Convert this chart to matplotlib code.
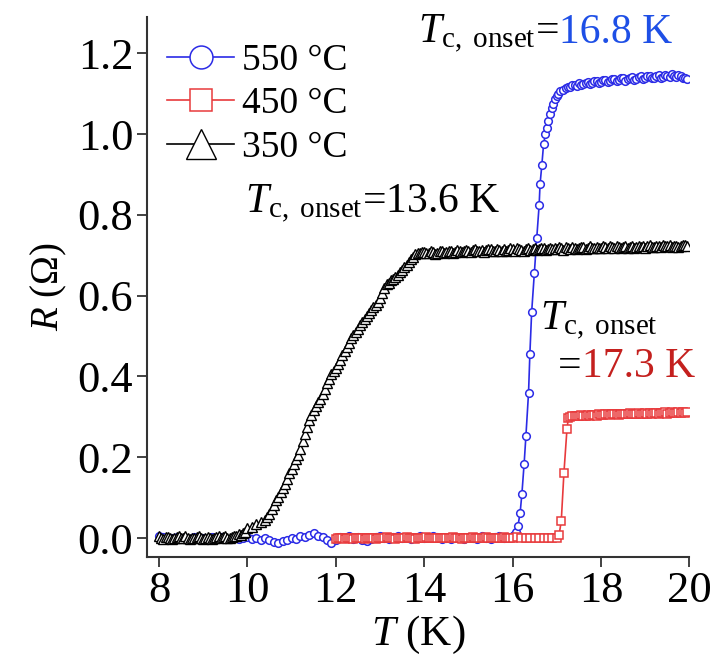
import matplotlib
matplotlib.use('Agg')
import matplotlib.pyplot as plt

plt.rcParams['font.family'] = ['Liberation Serif', 'DejaVu Serif']
plt.rcParams['mathtext.fontset'] = 'custom'
plt.rcParams['mathtext.rm'] = 'Liberation Serif'
plt.rcParams['mathtext.it'] = 'Liberation Serif:italic'

# ---- data ----
# 550 C sample
t550 = [8.0, 8.1, 8.2, 8.3, 8.4, 8.5, 8.6, 8.7, 8.8, 8.9,
        9.0, 9.1, 9.2, 9.3, 9.4, 9.5, 9.6, 9.7, 9.8, 9.9,
        10.0, 10.1, 10.2, 10.3, 10.4, 10.5, 10.6, 10.7, 10.8, 10.9,
        11.0, 11.1, 11.2, 11.3, 11.4, 11.5, 11.6, 11.7, 11.8, 11.9,
        12.0, 12.1, 12.2, 12.3, 12.4, 12.5, 12.6, 12.7, 12.8, 12.9,
        13.0, 13.1, 13.2, 13.3, 13.4, 13.5, 13.6, 13.7, 13.8, 13.9,
        14.0, 14.1, 14.2, 14.3, 14.4, 14.5, 14.6, 14.7, 14.8, 14.9,
        15.0, 15.1, 15.2, 15.3, 15.4, 15.5, 15.6, 15.7, 15.8, 15.9,
        16.0, 16.04, 16.08, 16.12, 16.17, 16.21, 16.26, 16.30, 16.36, 16.39,
        16.43, 16.49, 16.545, 16.60, 16.62, 16.66, 16.70, 16.74, 16.77, 16.81,
        16.85, 16.88, 16.92, 16.96, 17.00, 17.03, 17.08, 17.15,
        17.2, 17.25, 17.3, 17.35, 17.4, 17.45, 17.5, 17.55, 17.6, 17.65,
        17.7, 17.75, 17.8, 17.85, 17.9, 17.95, 18.0, 18.05, 18.1, 18.15,
        18.2, 18.25, 18.3, 18.35, 18.4, 18.45, 18.5, 18.55, 18.6, 18.65,
        18.7, 18.75, 18.8, 18.85, 18.9, 18.95, 19.0, 19.05, 19.1, 19.15,
        19.2, 19.25, 19.3, 19.35, 19.4, 19.45, 19.5, 19.55, 19.6, 19.65,
        19.7, 19.75, 19.8, 19.85, 19.9, 19.95]
r550 = [0.004, 0.002, -0.002, 0.001, 0.003, -0.001, 0.000, -0.003, 0.002, -0.002,
        0.001, -0.003, 0.002, -0.001, 0.003, 0.000, -0.002, 0.002, -0.003, 0.001,
        0.003, -0.002, 0.001, -0.004, 0.000, -0.006, -0.009, -0.012, -0.008, -0.004,
        0.000, -0.003, 0.004, 0.002, 0.008, 0.012, 0.006, 0.002, -0.006, -0.013,
        -0.004, 0.003, 0.000, 0.004, -0.002, 0.002, -0.004, -0.007, -0.002, 0.003,
        0.005, 0.001, -0.002, 0.002, 0.004, -0.001, 0.002, -0.003, 0.001, 0.004,
        0.000, 0.003, 0.006, 0.002, -0.002, 0.001, -0.003, 0.002, 0.000, -0.002,
        0.003, 0.001, -0.002, 0.004, 0.001, -0.003, 0.002, 0.005, 0.001, 0.003,
        0.004, 0.008, 0.016, 0.030, 0.063, 0.110, 0.184, 0.252, 0.360, 0.456,
        0.559, 0.656, 0.742, 0.825, 0.876, 0.923, 0.975, 1.000, 1.015, 1.032,
        1.049, 1.065, 1.076, 1.086, 1.094, 1.100, 1.106, 1.110,
        1.114, 1.116, 1.118, 1.121, 1.122, 1.120, 1.126, 1.123, 1.124, 1.128,
        1.130, 1.125, 1.127, 1.131, 1.133, 1.128, 1.129, 1.134, 1.135, 1.130,
        1.131, 1.136, 1.137, 1.132, 1.134, 1.138, 1.139, 1.133, 1.136, 1.140,
        1.141, 1.135, 1.137, 1.142, 1.143, 1.137, 1.139, 1.144, 1.145, 1.138,
        1.140, 1.145, 1.146, 1.140, 1.142, 1.147, 1.144, 1.141, 1.148, 1.143,
        1.141, 1.146, 1.145, 1.140, 1.139, 1.137]

# 450 C sample
t450 = [12.0, 12.05, 12.1, 12.15, 12.2, 12.25, 12.3, 12.35, 12.4, 12.45,
        12.5, 12.55, 12.6, 12.65, 12.7, 12.75, 12.8, 12.85, 12.9, 12.95,
        13.0, 13.05, 13.1, 13.15, 13.2, 13.25, 13.3, 13.35, 13.4, 13.45,
        13.5, 13.55, 13.6, 13.65, 13.7, 13.75, 13.8, 13.85, 13.9, 13.95,
        14.0, 14.05, 14.1, 14.15, 14.2, 14.25, 14.3, 14.35, 14.4, 14.45,
        14.5, 14.55, 14.6, 14.65, 14.7, 14.75, 14.8, 14.85, 14.9, 14.95,
        15.0, 15.05, 15.1, 15.15, 15.2, 15.25, 15.3, 15.35, 15.4, 15.45,
        15.5, 15.55, 15.6, 15.65, 15.7, 15.75, 15.8, 15.85, 15.9, 15.95,
        16.0, 16.1, 16.2, 16.3, 16.4, 16.5, 16.6, 16.7, 16.8, 16.9,
        17.0, 17.05, 17.10, 17.16, 17.23, 17.26, 17.30,
        17.35, 17.4, 17.45, 17.5, 17.55, 17.6, 17.65, 17.7, 17.75, 17.8,
        17.85, 17.9, 17.95, 18.0, 18.05, 18.1, 18.15, 18.2, 18.25, 18.3,
        18.35, 18.4, 18.45, 18.5, 18.55, 18.6, 18.65, 18.7, 18.75, 18.8,
        18.85, 18.9, 18.95, 19.0, 19.05, 19.1, 19.15, 19.2, 19.25, 19.3,
        19.35, 19.4, 19.45, 19.5, 19.55, 19.6, 19.65, 19.7, 19.75, 19.8,
        19.85, 19.9, 19.95]
r450 = [-0.002, 0.000, -0.001, 0.001, -0.002, 0.000, -0.001, 0.001, -0.002, 0.000,
        0.001, -0.001, 0.000, -0.002, 0.001, 0.000, -0.001, 0.001, -0.002, 0.000,
        0.001, -0.001, 0.000, 0.002, -0.001, 0.000, 0.001, -0.002, 0.000, 0.001,
        -0.001, 0.000, 0.002, -0.001, 0.000, 0.001, -0.002, 0.000, 0.001, -0.001,
        0.000, 0.002, -0.001, 0.000, 0.001, -0.001, 0.000, 0.001, -0.001, 0.000,
        0.001, -0.001, 0.000, 0.002, -0.001, 0.000, 0.001, -0.002, 0.000, 0.001,
        -0.001, 0.000, 0.002, -0.001, 0.000, 0.001, -0.001, 0.000, 0.002, 0.000,
        0.001, -0.001, 0.000, 0.001, -0.001, 0.000, 0.002, -0.001, 0.000, 0.001,
        0.000, 0.002, -0.001, 0.000, 0.001, -0.001, 0.000, 0.001, -0.001, 0.000,
        0.001, 0.007, 0.042, 0.161, 0.271, 0.296, 0.300,
        0.302, 0.301, 0.303, 0.302, 0.304, 0.302, 0.303, 0.305, 0.303, 0.304,
        0.305, 0.303, 0.306, 0.305, 0.304, 0.306, 0.307, 0.305, 0.306, 0.307,
        0.306, 0.305, 0.307, 0.308, 0.306, 0.307, 0.309, 0.306, 0.308, 0.307,
        0.309, 0.307, 0.308, 0.310, 0.308, 0.309, 0.307, 0.310, 0.309, 0.308,
        0.310, 0.309, 0.311, 0.308, 0.310, 0.311, 0.309, 0.310, 0.312, 0.309,
        0.311, 0.310, 0.311]

# 350 C sample
t350 = [8.0, 8.05, 8.1, 8.15, 8.2, 8.25, 8.3, 8.35, 8.4, 8.45,
        8.5, 8.55, 8.6, 8.65, 8.7, 8.75, 8.8, 8.85, 8.9, 8.95,
        9.0, 9.05, 9.1, 9.15, 9.2, 9.25, 9.3, 9.35, 9.4, 9.45,
        9.5, 9.55, 9.6, 9.65, 9.7, 9.75, 9.8, 9.85, 9.9, 9.95,
        10.0, 10.1, 10.2, 10.3, 10.4, 10.45, 10.5, 10.55, 10.6, 10.65,
        10.7, 10.75, 10.8, 10.85, 10.9, 10.95, 11.0, 11.05, 11.1, 11.15,
        11.2, 11.25, 11.3, 11.35, 11.4, 11.45, 11.5, 11.55, 11.6, 11.65,
        11.7, 11.75, 11.8, 11.85, 11.9, 11.95, 12.0, 12.05, 12.1, 12.15,
        12.2, 12.25, 12.3, 12.35, 12.4, 12.45, 12.5, 12.55, 12.6, 12.65,
        12.7, 12.75, 12.8, 12.85, 12.9, 12.95, 13.0, 13.05, 13.1, 13.15,
        13.2, 13.25, 13.3, 13.35, 13.4, 13.45, 13.5, 13.55, 13.6, 13.65,
        13.7, 13.75, 13.8, 13.85, 13.9, 13.95,
        14.0, 14.05, 14.1, 14.15, 14.2, 14.25, 14.3, 14.35, 14.4, 14.45,
        14.5, 14.55, 14.6, 14.65, 14.7, 14.75, 14.8, 14.85, 14.9, 14.95,
        15.0, 15.05, 15.1, 15.15, 15.2, 15.25, 15.3, 15.35, 15.4, 15.45,
        15.5, 15.55, 15.6, 15.65, 15.7, 15.75, 15.8, 15.85, 15.9, 15.95,
        16.0, 16.05, 16.1, 16.15, 16.2, 16.25, 16.3, 16.35, 16.4, 16.45,
        16.5, 16.55, 16.6, 16.65, 16.7, 16.75, 16.8, 16.85, 16.9, 16.95,
        17.0, 17.05, 17.1, 17.15, 17.2, 17.25, 17.3, 17.35, 17.4, 17.45,
        17.5, 17.55, 17.6, 17.65, 17.7, 17.75, 17.8, 17.85, 17.9, 17.95,
        18.0, 18.05, 18.1, 18.15, 18.2, 18.25, 18.3, 18.35, 18.4, 18.45,
        18.5, 18.55, 18.6, 18.65, 18.7, 18.75, 18.8, 18.85, 18.9, 18.95,
        19.0, 19.05, 19.1, 19.15, 19.2, 19.25, 19.3, 19.35, 19.4, 19.45,
        19.5, 19.55, 19.6, 19.65, 19.7, 19.75, 19.8, 19.85, 19.9, 19.95]
r350 = [0.004, 0.001, -0.002, 0.002, 0.003, -0.001, -0.003, 0.000, 0.002, 0.004,
        -0.001, 0.001, 0.004, 0.000, -0.003, -0.001, 0.001, 0.003, 0.005, 0.000,
        -0.002, 0.001, 0.003, 0.000, -0.003, -0.001, 0.002, 0.004, 0.000, 0.002,
        0.004, 0.001, -0.001, 0.003, 0.006, 0.004, 0.010, 0.008, 0.013, 0.016,
        0.024, 0.028, 0.034, 0.039, 0.045, 0.052, 0.060, 0.071, 0.083, 0.093,
        0.102, 0.113, 0.123, 0.133, 0.145, 0.162, 0.172, 0.184, 0.195, 0.205,
        0.220, 0.240, 0.258, 0.276, 0.292, 0.305, 0.316, 0.326, 0.336, 0.345,
        0.356, 0.370, 0.384, 0.395, 0.405, 0.414, 0.421, 0.430, 0.440, 0.452,
        0.462, 0.472, 0.483, 0.495, 0.503, 0.510, 0.518, 0.527, 0.535, 0.542,
        0.550, 0.558, 0.565, 0.572, 0.578, 0.585, 0.595, 0.607, 0.620, 0.628,
        0.632, 0.638, 0.642, 0.647, 0.652, 0.658, 0.664, 0.670, 0.677, 0.684,
        0.690, 0.697, 0.703, 0.706, 0.707, 0.708,
        0.708, 0.705, 0.706, 0.710, 0.709, 0.704, 0.707, 0.711, 0.710, 0.706,
        0.708, 0.712, 0.711, 0.707, 0.709, 0.713, 0.712, 0.708, 0.710, 0.714,
        0.711, 0.709, 0.713, 0.715, 0.710, 0.712, 0.714, 0.709, 0.713, 0.716,
        0.715, 0.710, 0.711, 0.716, 0.714, 0.711, 0.716, 0.712, 0.713, 0.717,
        0.715, 0.711, 0.717, 0.716, 0.714, 0.712, 0.716, 0.718, 0.713, 0.715,
        0.717, 0.714, 0.715, 0.719, 0.718, 0.713, 0.716, 0.719, 0.715, 0.717,
        0.715, 0.720, 0.718, 0.714, 0.720, 0.717, 0.716, 0.721, 0.719, 0.715,
        0.717, 0.721, 0.720, 0.716, 0.718, 0.722, 0.719, 0.717, 0.720, 0.718,
        0.719, 0.723, 0.721, 0.717, 0.722, 0.720, 0.718, 0.723, 0.721, 0.719,
        0.721, 0.724, 0.718, 0.720, 0.722, 0.719, 0.720, 0.724, 0.721, 0.723,
        0.719, 0.722, 0.725, 0.721, 0.720, 0.724, 0.722, 0.720, 0.725, 0.722,
        0.723, 0.726, 0.720, 0.722, 0.724, 0.721, 0.722, 0.726, 0.725, 0.723]

labels = ['550 \u00b0C', '450 \u00b0C', '350 \u00b0C']
blue = '#2b2be6'
red = '#e83a3c'

fig = plt.figure(figsize=(7.13, 6.58), dpi=100)
ax = fig.add_axes([0.2062, 0.1535, 0.7608, 0.8205])

ax.plot(t550, r550, '-o', color=blue, lw=1.2, ms=5.5, mfc='white', mew=1.1, label=labels[0])
ax.plot(t450, r450, '-s', color=red, lw=1.2, ms=5.5, mfc='white', mew=1.1, label=labels[1])
ax.plot(t350, r350, '-^', color='black', lw=1.2, ms=7, mfc='white', mew=1.0, label=labels[2])

ax.set_xlim(7.73, 20.0)
ax.set_ylim(-0.047, 1.29)
ax.set_xticks([8, 10, 12, 14, 16, 18, 20])
ax.set_yticks([0.0, 0.2, 0.4, 0.6, 0.8, 1.0, 1.2])
ax.set_yticklabels(['0.0', '0.2', '0.4', '0.6', '0.8', '1.0', '1.2'])
for s in ['top', 'right']:
    ax.spines[s].set_visible(False)
for s in ['left', 'bottom']:
    ax.spines[s].set_linewidth(1.5)
    ax.spines[s].set_color('#333333')
ax.tick_params(direction='out', length=7, width=1.3, labelsize=32, color='#333333', pad=3)

ax.set_xlabel('$T$ (K)', fontsize=31, labelpad=2)
ax.set_ylabel('$R$ (\u03a9)', fontsize=28, labelpad=6)

ax.legend(loc='upper left', bbox_to_anchor=(-0.012, 1.0), frameon=False, fontsize=27,
          markerscale=3.0, handlelength=1.8, handletextpad=0.2, labelspacing=0.24,
          borderaxespad=0.3)

# onset annotations (pixel positions)
W, H = 713.0, 658.0
tc = '$T_{\\mathrm{c,\\ onset}}$'
fs = 30


def after(txt, s, color):
    # put a second text right after the first one on the same baseline
    fig.canvas.draw()
    bb = txt.get_window_extent()
    x, y = txt.get_position()
    return fig.text(bb.x1 / fig.bbox.width, y, s, fontsize=fs, color=color, va='baseline')


t1 = fig.text(418 / W, 1 - 43 / H, tc + '=', fontsize=fs, va='baseline')
after(t1, '16.8 K', '#1e4fe6')
fig.text(245 / W, 1 - 213 / H, tc + '=13.6 K', fontsize=fs, va='baseline')
fig.text(540 / W, 1 - 330 / H, tc, fontsize=fs, va='baseline')
t3 = fig.text(558 / W, 1 - 377 / H, '=', fontsize=fs, va='baseline')
after(t3, '17.3 K', '#c4201e')

fig.savefig('out.png', dpi=100)
